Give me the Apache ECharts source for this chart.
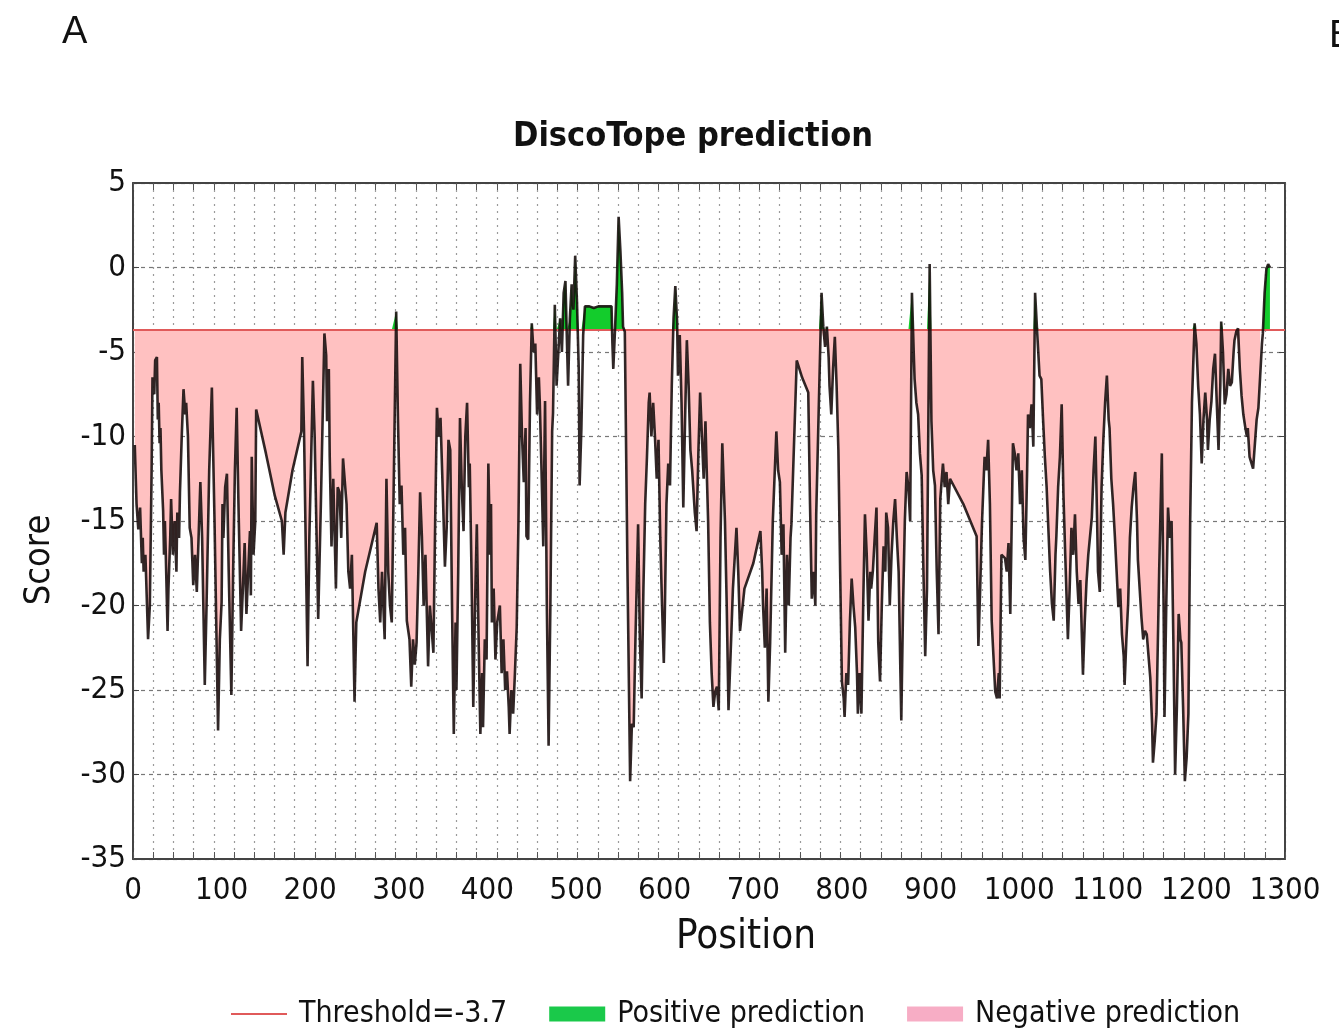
<!DOCTYPE html>
<html>
<head>
<meta charset="utf-8">
<script src="https://cdn.jsdelivr.net/npm/echarts@6/dist/echarts.min.js"></script>
<style>
html,body{margin:0;padding:0;background:#fff;}
#chart{width:1339px;height:1034px;}
</style>
</head>
<body>
<div id="chart"></div>
<script>
// ---- data ----
const threshold = -3.7;
const xTicks = [0,100,200,300,400,500,600,700,800,900,1000,1100,1200,1300];
const yTicks = [-35,-30,-25,-20,-15,-10,-5,0,5];
// residue spans where the fill is "positive" (no negative fill drawn)
const positiveSpans = [[475, 554], [1274, 1300]];

const positions = [
  2,4,6,8,10,11,12,14,17,19,21,22,24,25,27,28,29,30,31,32,34,35,36,37,39,40,42,43,45,47,49,50,52,53,55,57,59,60,62,64,66,68,70,72,74,76,78,81,83,86,89,92,96,98,100,101,102,104,106,108,111,113,115,117,119,122,124,126,128,130,132,133,134,136,138,139,150,160,168,170,172,180,190,191,193,197,199,203,205,209,212,216,218,219,221,222,224,226,229,231,233,235,237,239,241,243,245,247,250,252,262,275,277,279,281,284,286,288,290,292,297,299,301,303,305,307,309,312,314,316,318,320,322,
  324,326,328,330,333,335,337,339,341,343,345,347,350,352,354,356,358,360,362,364,365,367,369,371,373,375,377,379,380,382,384,386,388,390,392,394,395,397,399,401,403,404,405,407,409,411,414,416,418,420,422,424,425,427,429,431,433,435,437,439,441,443,444,446,448,450,452,454,456,458,459,461,463,465,467,469,471,473,474,476,478,480,482,484,486,488,490,491,493,495,497,499,501,503,504,506,508,510,515,520,525,530,535,540,541,542,544,546,548,550,552,553,555,558,561,563,565,567,570,572,574,576,578,580,582,583,585,587,589,591,593,595,597,599,600,602,604,606,608,610,612,614,615,617,619,621,623,625,627,629,631,632,634,636,638,640,642,644,646,647,649,651,653,655,657,659,661,663,665,668,670,672,675,677,679,681,683,
  685,690,700,708,710,711,713,715,717,719,722,726,728,730,732,734,736,738,740,742,743,749,755,762,764,766,768,770,771,774,777,779,781,783,785,786,788,790,792,794,796,798,800,802,803,805,807,809,811,813,815,817,818,820,822,824,826,828,830,832,833,835,837,839,841,843,845,847,849,850,852,854,856,858,860,862,864,866,867,869,871,873,875,877,879,881,882,884,886,888,890,892,894,896,899,901,903,905,907,909,911,914,916,918,920,922,937,952,954,956,958,960,961,963,965,967,969,971,973,975,977,978,980,982,984,986,988,990,
  993,995,997,999,1001,1003,1005,1007,1009,1010,1012,1014,1016,1018,1020,1022,1023,1025,1027,1029,1031,1033,1035,1037,1039,1041,1042,1044,1046,1048,1050,1052,1055,1057,1059,1061,1063,1065,1067,1069,1070,1072,1074,1076,1078,1082,1084,1086,1088,1089,1091,1093,1095,1097,1099,1101,1102,1104,1106,1108,1110,1112,1114,1116,1118,1119,1121,1123,1125,1127,1129,1131,1133,1134,1136,1138,1140,1142,1144,1146,1148,1150,1151,1153,1155,1158,1161,1163,1164,1166,1168,1170,1172,1174,1176,1178,1180,1182,1183,1185,1187,1189,1191,1193,1195,1198,1200,1202,1204,1206,1208,1210,1212,1213,1215,1217,1219,1221,1223,1225,1227,1228,1230,1232,1234,1236,1238,1240,1242,1243,1245,1247,1249,1251,1253,1255,1257,1258,1260,1262,1264,1266,1268,1270,1272,1274,1275,1277,1279,1281,1283
];
const scores = [
  -10.5,-14,-15.5,-14.2,-17.5,-16,-18,-17,-22,-20,-12,-6.5,-7.5,-5.5,-5.3,-9,-8,-10.4,-9.5,-12,-14.4,-17,-15,-17,-21.5,-19,-16,-13.7,-17,-15,-18,-14.5,-16,-13.3,-10,-7.2,-8.7,-8,-10,-15.4,-16,-18.8,-17,-19.2,-16,-12.7,-16,-24.7,-20,-12,-7.1,-15,-27.4,-22,-19.8,-14,-16,-13,-12.2,-18,-25.3,-18,-12,-8.3,-14,-21.5,-19,-16.3,-20.5,-18,-15.6,-19.4,-11.2,-17,-15,-8.4,-11,-13.5,-15,-17,-14.5,-12,-9.7,-5.3,-9.7,-23.6,-16,-6.7,-10,-20.8,-14,-3.9,-5.2,-9.1,-6,-11.2,-16.5,-12.5,-19,-13,-13.3,-16,-11.3,-11.2,-14,-18,-19,-17,-25.7,-21,-18,-15.1,-19,-21,-18,-22,-12.5,-18,-20,-21,-2.6,-9,-14,-12.9,-17,-15.4,-20.9,-22,-24.8,-22,-23.5,-22.2,-18,
  -13.3,-15.9,-20,-17,-23.6,-20,-20,-22.8,-15,-8.3,-10,-8.9,-14,-17.7,-15.4,-10.2,-10.8,-20,-27.6,-21,-25,-18,-8.9,-13,-15.6,-10,-8,-13,-11.6,-18,-26,-20,-15.2,-22,-27.6,-24,-27.2,-22,-23.2,-11.6,-17,-14,-21,-19,-23.2,-21,-20,-24,-22,-25,-23.9,-26,-27.6,-25,-26.4,-24,-21.3,-15,-5.7,-10,-12.7,-9.5,-15.9,-16.1,-8,-3.3,-5,-4.5,-8.7,-6.5,-7.9,-12,-16.5,-7.9,-20,-28.3,-20,-9.7,-8.6,-2.2,-7,-7,-3,-5,-1.5,-0.8,-5,-7,-3,-1,-2.5,0.7,-2,-6,-12.9,-9.5,-4,-2.3,-2.3,-2.4,-2.3,-2.3,-2.3,-2.3,-4.5,-6,-3.6,-1,3,1,-1.5,-3.5,-3.8,-18,-30.4,-27,-27.2,-22,-15.2,-22,-25.5,-19,-14,-11.2,-8,-7.4,-10,-8,-10,-12.5,-10.2,-16,-20,-23.4,-21,-14,-11.6,-12.9,-7,-3,-1.1,-3.2,-6.4,-4,-8,-14.2,-9,-4.3,-7,-10.8,-12,-12.1,-14.5,-15.6,-11,-7.4,-10,-12.5,-9.1,-11.2,-15,-21,-24,-26,-25.1,-24.8,-26.2,-16,-10.4,-15,-20,-26.2,-22,-19,-19,-15.4,-18,
  -21.5,-19,-17.5,-15.6,-18,-20,-22.5,-19,-25.7,-22.2,-15,-9.7,-12,-12.7,-17,-15.2,-22.8,-17,-20,-16,-15.2,-5.5,-6.5,-7.4,-14,-19.6,-18,-20,-14.6,-8,-1.5,-3.5,-4.7,-3.5,-5.3,-7,-8.7,-6,-4.1,-7,-10.8,-18,-24.5,-25.5,-26.6,-24,-24.7,-21,-18.4,-20,-21.3,-24,-26.4,-24,-26.4,-20,-14.6,-17,-20.9,-18,-19,-17.9,-16,-14.2,-22.2,-24.5,-20,-16.5,-18,-14.5,-15.4,-20,-17,-15,-13.7,-16,-18,-24,-26.8,-20,-15,-12.1,-13,-15,-1.5,-5,-6.6,-8,-8.7,-11,-12.3,-18,-23,-19,0.2,-9.1,-12,-12.9,-18,-21.7,-13.7,-11.6,-13,-12.1,-14,-12.5,-14,-15.9,-22.4,-19,-15.2,-12.5,-11.2,-12,-10.2,-14,-20.9,-23,-25.1,-25.5,-24,-25.5,-17,-16.9,-17.2,-18,-16.3,-20.5,
  -10.4,-11,-12,-11,-14,-12,-16,-17.3,-12,-8.7,-9.5,-8.1,-10.6,-1.5,-3.5,-3.4,-6.4,-6.6,-9,-11.2,-13,-12.9,-18,-19.9,-20.9,-17,-15.9,-13,-11.2,-8.1,-13.5,-17,-22,-19,-15.4,-17,-14.6,-18,-19.9,-18.5,-18.4,-24.1,-21,-18.6,-17,-14.8,-12,-10,-15,-18,-19.2,-13,-10.2,-8,-6.4,-9,-9.5,-12.5,-14,-15.9,-18,-20.1,-19,-21.7,-23,-24.7,-22,-19.9,-16,-14.2,-13,-12.1,-15,-17.3,-19,-20.7,-22,-21.5,-21.7,-23,-24.3,-27,-29.3,-28,-26.4,-18,-11,-20,-26.6,-20,-14.2,-16,-15,-22,-30,-26,-20.5,-22,-22.2,-26,-30.4,-29,-26.4,-15,-8,-3.3,-4.5,-7,-8.7,-11.6,-9,-7.4,-9,-10.8,-9,-7.9,-6,-5.1,-8,-10.8,-7,-3.2,-5,-8.1,-7.5,-6,-7,-6.8,-5,-4.3,-3.8,-3.6,-6,-7.6,-8.7,-9.4,-10,-9.5,-11.2,-11.2,-11.9,-11.9,-9,-8.3,-6.4,-4.5,-3.9,-1.5,-0.1,0.2,0
];

// ---- build series data ----
const inPositive = p => positiveSpans.some(s => p >= s[0] && p <= s[1]);
const lineData = positions.map((p, i) => [p, scores[i]]);
const negData = positions.map((p, i) => inPositive(p) ? [p, null] : [p, Math.min(scores[i], threshold)]);
const posData = positions.map((p, i) => [p, Math.max(scores[i], threshold)]);

const FONT = "'Liberation Sans Narrow','Arial Narrow','DejaVu Sans Condensed','Liberation Sans',sans-serif";
const PINK = '#ffc1c1';
const GREEN = '#13cc2c';
const RED = '#e05a5a';

const chart = echarts.init(document.getElementById('chart'), null, {renderer: 'canvas'});
chart.setOption({
  animation: false,
  backgroundColor: '#fff',
  textStyle: {fontFamily: FONT},
  title: {
    text: 'DiscoTope prediction',
    left: 688, top: 115, textAlign: 'center',
    textStyle: {fontSize: 34, fontWeight: 'bold', color: '#111', fontFamily: FONT}
  },
  grid: {left: 133, right: 54, top: 183, bottom: 175},
  legend: {
    top: 994, left: 226,
    itemWidth: 56, itemHeight: 15, itemGap: 42,
    textStyle: {fontSize: 30, color: '#111', fontFamily: FONT, padding: [0, 0, 0, 7]},
    data: [
      {name: 'Threshold=-3.7', icon: 'path://M0,0H60V2.2H0Z', itemStyle: {color: RED}},
      {name: 'Positive prediction', icon: 'rect', itemStyle: {color: '#1ac94a'}},
      {name: 'Negative prediction', icon: 'rect', itemStyle: {color: '#f7adc5'}}
    ]
  },
  xAxis: [
    {
      type: 'value', min: xTicks[0], max: xTicks[xTicks.length - 1], interval: 100,
      position: 'bottom',
      axisLine: {show: true, onZero: false, lineStyle: {color: '#444', width: 2}},
      axisTick: {show: false},
      splitLine: {show: false},
      axisLabel: {fontSize: 31, color: '#111', margin: 16, fontFamily: FONT, formatter: v => String(v)}
    },
    {
      type: 'value', min: 0, max: 1300, interval: 1300 / 57,
      position: 'bottom',
      axisLine: {show: false, onZero: false},
      axisTick: {show: true, inside: true, length: 7, lineStyle: {color: '#555'}},
      axisLabel: {show: false},
      splitLine: {show: true, lineStyle: {type: [2, 5], color: '#9a9a9a', width: 1.2}}
    },
    {
      type: 'value', min: 0, max: 1300, interval: 1300 / 57,
      position: 'top',
      axisLine: {show: true, onZero: false, lineStyle: {color: '#444', width: 2}},
      axisTick: {show: true, inside: true, length: 7, lineStyle: {color: '#555'}},
      axisLabel: {show: false},
      splitLine: {show: false}
    }
  ],
  yAxis: [
    {
      type: 'value', min: yTicks[0], max: yTicks[yTicks.length - 1], interval: 5,
      axisLine: {show: true, onZero: false, lineStyle: {color: '#444', width: 2}},
      axisTick: {show: true, inside: true, length: 6, lineStyle: {color: '#444'}},
      axisLabel: {fontSize: 31, color: '#111', margin: 7, fontFamily: FONT},
      splitLine: {show: true, lineStyle: {type: [4, 4], color: '#777', width: 1.2}}
    },
    {
      type: 'value', min: -35, max: 5, interval: 5, position: 'right',
      axisLine: {show: true, onZero: false, lineStyle: {color: '#444', width: 2}},
      axisTick: {show: true, inside: true, length: 6, lineStyle: {color: '#444'}},
      axisLabel: {show: false},
      splitLine: {show: false}
    }
  ],
  graphic: [
    {type: 'text', left: 62, top: 14, style: {text: 'A', fontSize: 38, fill: '#111', fontFamily: 'Liberation Sans, sans-serif'}},
    {type: 'text', left: 1329, top: 18, style: {text: 'B', fontSize: 38, fill: '#111', fontFamily: 'Liberation Sans, sans-serif'}},
    {type: 'text', x: 40, y: 560, rotation: Math.PI / 2,
      style: {text: 'Score', fontSize: 36, fill: '#111', fontFamily: FONT, textAlign: 'center', textVerticalAlign: 'middle'}},
    {type: 'text', x: 746, y: 938,
      style: {text: 'Position', fontSize: 40, fill: '#111', fontFamily: FONT, textAlign: 'center', textVerticalAlign: 'middle'}}
  ],
  series: [
    {
      name: 'Negative prediction', type: 'line', data: negData,
      showSymbol: false, symbol: 'none', connectNulls: false,
      lineStyle: {width: 0}, itemStyle: {color: PINK},
      areaStyle: {color: PINK, opacity: 1, origin: threshold},
      z: 1, silent: true
    },
    {
      name: 'Positive prediction', type: 'line', data: posData,
      showSymbol: false, symbol: 'none',
      lineStyle: {width: 0}, itemStyle: {color: GREEN},
      areaStyle: {color: GREEN, opacity: 1, origin: threshold},
      z: 2, silent: true
    },
    {
      name: 'Threshold=-3.7', type: 'line',
      data: [[0, threshold], [1300, threshold]],
      showSymbol: false, symbol: 'none',
      lineStyle: {color: RED, width: 2}, itemStyle: {color: RED},
      z: 3, silent: true
    },
    {
      name: 'Score', type: 'line', data: lineData,
      showSymbol: false, symbol: 'none',
      lineStyle: {color: 'rgba(20,10,10,0.88)', width: 2.6},
      itemStyle: {color: '#222'},
      z: 4, silent: true
    }
  ]
});
</script>
</body>
</html>
